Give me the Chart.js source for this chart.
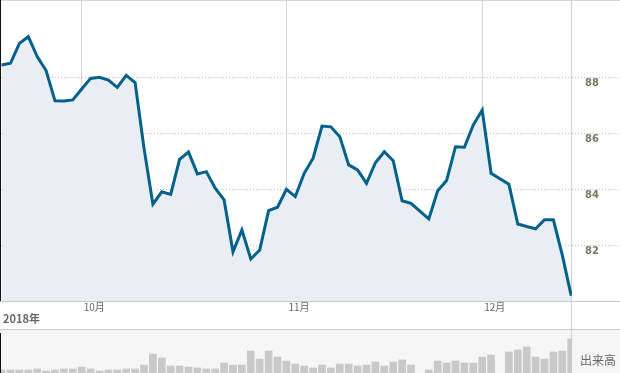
<!DOCTYPE html>
<html><head><meta charset="utf-8">
<script src="https://cdn.jsdelivr.net/npm/chart.js@4.4.1/dist/chart.umd.min.js"></script>
<style>
html,body{margin:0;padding:0;background:#fff;}
#wrap{position:relative;width:620px;height:373px;overflow:hidden;background:#fff;}
#price{position:absolute;left:0;top:0;}
#vol{position:absolute;left:0;top:330px;background:#f6f6f6;}
.lbl{position:absolute;font-family:"Noto Sans CJK JP",sans-serif;color:#666;white-space:nowrap;}
</style></head><body>
<div id="wrap">
<canvas id="price" width="620" height="330"></canvas>
<canvas id="vol" width="620" height="43"></canvas>
<div class="lbl" id="year" style="left:3px;top:311px;font-size:11px;font-weight:bold;line-height:14px;"></div>
<div class="lbl" id="vlab" style="left:580px;top:352px;font-size:12px;line-height:16px;"></div>
</div>
<script>
// ---- data ----
const dates = [
 '2018-09-18','2018-09-19','2018-09-20','2018-09-21','2018-09-24','2018-09-25','2018-09-26','2018-09-27','2018-09-28',
 '2018-10-01','2018-10-02','2018-10-03','2018-10-04','2018-10-05','2018-10-08','2018-10-09','2018-10-10','2018-10-11','2018-10-12',
 '2018-10-15','2018-10-16','2018-10-17','2018-10-18','2018-10-19','2018-10-22','2018-10-23','2018-10-24','2018-10-25','2018-10-26',
 '2018-10-29','2018-10-30','2018-10-31',
 '2018-11-01','2018-11-02','2018-11-05','2018-11-06','2018-11-07','2018-11-08','2018-11-09','2018-11-12','2018-11-13','2018-11-14',
 '2018-11-15','2018-11-16','2018-11-19','2018-11-20','2018-11-21','2018-11-22','2018-11-23','2018-11-26','2018-11-27','2018-11-28',
 '2018-11-29','2018-11-30',
 '2018-12-03','2018-12-04','2018-12-05','2018-12-06','2018-12-07','2018-12-10','2018-12-11','2018-12-12','2018-12-13','2018-12-14','2018-12-17'
];
const prices = [
 88.43,88.49,89.20,89.44,88.73,88.23,87.15,87.14,87.18,
 87.57,87.95,87.99,87.89,87.63,88.06,87.80,85.46,83.46,83.90,
 83.81,85.06,85.32,84.54,84.62,84.03,83.61,81.76,82.54,81.50,
 81.82,83.23,83.35,
 83.99,83.73,84.56,85.10,86.25,86.22,85.87,84.86,84.68,84.20,
 84.94,85.33,85.01,83.58,83.49,null,82.93,83.94,84.30,85.51,
 85.49,86.29,
 86.82,84.56,null,84.17,82.75,82.66,82.58,82.90,82.90,81.64,80.19
];
const volumes = [
 3,3,3,3,4,2,3,4,4,
 6,4,2,3,3,4,4,8,19,15,
 7,7,6,5,4,4,10,8,8,22,
 14,22,16,
 12,9,7,5,8,5,9,9,7,8,
 11,7,11,13,8,null,3,12,10,12,
 10,10,
 16,18,null,21,23,26,16,14,21,22,34
];
const priceTicks = [82, 84, 86, 88];
const monthLabels = ['10月', '11月', '12月'];
const yearLabel = '2018年';
const volumeLabel = '出来高';

// ---- derived ----
const monthStarts = [];
for (let i = 1; i < dates.length; i++) {
  if (dates[i].slice(5, 7) !== dates[i - 1].slice(5, 7)) monthStarts.push(i);
}
const X_MIN = -0.067, X_MAX = dates.length - 1 + 0.09;

document.getElementById('year').textContent = yearLabel;
document.getElementById('vlab').textContent = volumeLabel;

const frameA = {
  id: 'frameA',
  beforeDatasetsDraw(chart) {
    const c = chart.ctx, a = chart.chartArea, W = chart.width, H = chart.height;
    c.save();
    c.lineWidth = 1;
    c.strokeStyle = '#d6d6d6';
    c.beginPath(); c.moveTo(0, 0.5); c.lineTo(W, 0.5); c.stroke();
    c.strokeStyle = '#c8c8c8';
    c.beginPath(); c.moveTo(0, a.bottom + 0.5); c.lineTo(W, a.bottom + 0.5); c.stroke();
    c.beginPath(); c.moveTo(0, H - 0.5); c.lineTo(W, H - 0.5); c.stroke();
    c.strokeStyle = '#d0d0d0';
    c.beginPath(); c.moveTo(a.right - 0.5, 0); c.lineTo(a.right - 0.5, a.bottom); c.stroke();
    c.beginPath(); c.moveTo(a.right - 0.5, a.bottom + 1); c.lineTo(a.right - 0.5, H - 1); c.stroke();
    c.strokeStyle = '#111';
    c.beginPath(); c.moveTo(0.5, 0); c.lineTo(0.5, a.bottom); c.stroke();
    c.restore();
  }
};

new Chart(document.getElementById('price'), {
  type: 'line',
  data: {
    datasets: [{
      data: prices.map((v, i) => ({ x: i, y: v })),
      borderColor: '#02618a',
      backgroundColor: '#e9eef5',
      borderWidth: 3,
      fill: 'start',
      pointRadius: 0,
      tension: 0,
      spanGaps: true
    }]
  },
  options: {
    responsive: false, animation: false, devicePixelRatio: 1,
    layout: { padding: { left: 1, right: 0, top: 0, bottom: 0 } },
    plugins: { legend: { display: false }, tooltip: { enabled: false } },
    scales: {
      x: {
        type: 'linear', min: X_MIN, max: X_MAX, position: 'bottom', offset: false,
        afterBuildTicks: s => { s.ticks = monthStarts.map(v => ({ value: v })); },
        afterFit: s => { s.height = 29; s.paddingLeft = 0; s.paddingRight = 0; },
        grid: { color: '#d6d6d6', lineWidth: 1, drawTicks: false },
        border: { display: false },
        ticks: {
          align: 'start', labelOffset: 2, padding: 0, color: '#666', maxRotation: 0, autoSkip: false,
          font: { family: '"Noto Sans CJK JP"', size: 10 },
          callback: v => monthLabels[monthStarts.indexOf(v)]
        }
      },
      y: {
        position: 'right', min: 80, max: 90.75,
        afterBuildTicks: s => { s.ticks = priceTicks.map(v => ({ value: v })); },
        afterFit: s => { s.width = 48; s.paddingTop = 0; s.paddingBottom = 0; },
        grid: { color: '#c2c2c2', lineWidth: 1, drawTicks: true, tickLength: 48, tickColor: '#c2c2c2', tickBorderDash: [1, 2] },
        border: { display: false, dash: [1, 2] },
        ticks: {
          padding: -35, labelOffset: 6, color: '#7b7762',
          font: { family: '"DejaVu Sans"', size: 10, weight: 'bold' },
          callback: v => String(v)
        }
      }
    }
  },
  plugins: [frameA]
});

const frameB = {
  id: 'frameB',
  beforeDatasetsDraw(chart) {
    const c = chart.ctx, a = chart.chartArea, H = chart.height;
    c.save();
    c.lineWidth = 1;
    c.strokeStyle = '#d0d0d0';
    c.beginPath(); c.moveTo(a.right - 0.5, 0); c.lineTo(a.right - 0.5, H); c.stroke();
    c.strokeStyle = '#111';
    c.beginPath(); c.moveTo(0.5, 3); c.lineTo(0.5, H); c.stroke();
    c.restore();
  }
};

new Chart(document.getElementById('vol'), {
  type: 'bar',
  data: {
    datasets: [{
      data: volumes.map((v, i) => ({ x: i, y: v })),
      backgroundColor: '#c9c9c9',
      borderWidth: 0,
      barThickness: 7,
      grouped: false
    }]
  },
  options: {
    responsive: false, animation: false, devicePixelRatio: 1,
    layout: { padding: { left: 1, right: 48, top: 0, bottom: 0 } },
    plugins: { legend: { display: false }, tooltip: { enabled: false } },
    scales: {
      x: { type: 'linear', display: false, offset: false, min: X_MIN, max: X_MAX, bounds: 'data' },
      y: { display: false, min: 0, max: 43, beginAtZero: true }
    }
  },
  plugins: [frameB]
});
</script>
</body></html>
